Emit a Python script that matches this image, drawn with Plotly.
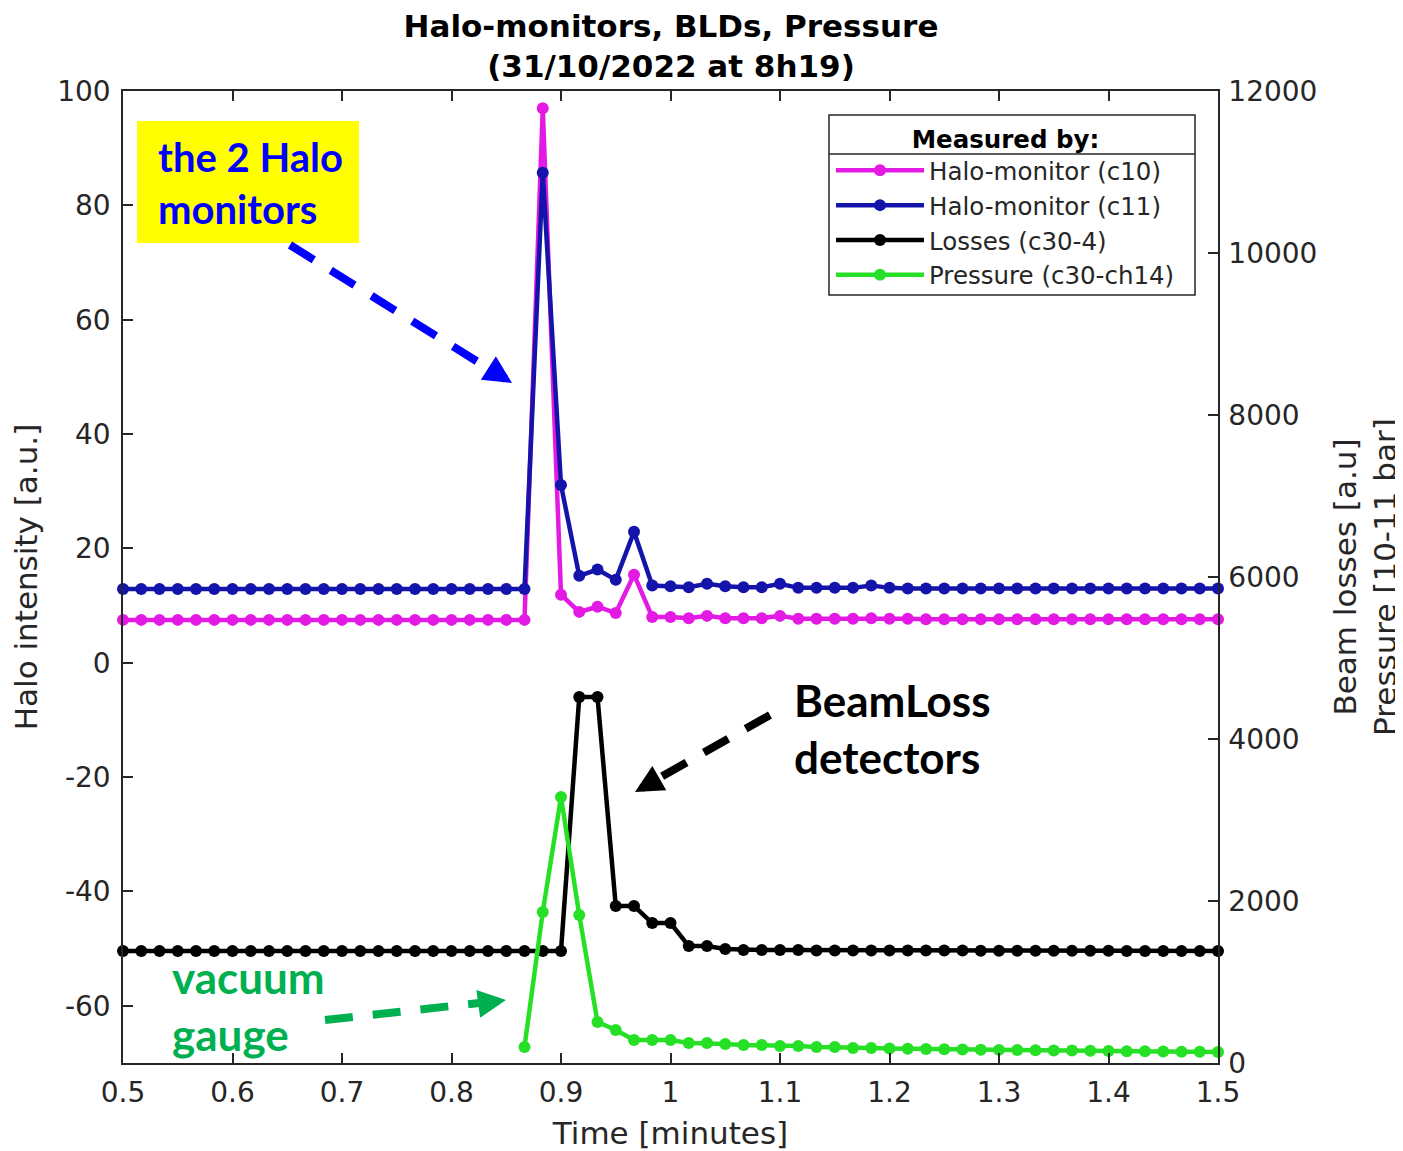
import plotly.graph_objects as go

# ---------------- data ----------------
time_s = [30, 31, 32, 33, 34, 35, 36, 37, 38, 39, 40, 41, 42, 43, 44, 45, 46, 47, 48, 49,
          50, 51, 52, 53, 54, 55, 56, 57, 58, 59, 60, 61, 62, 63, 64, 65, 66, 67, 68, 69,
          70, 71, 72, 73, 74, 75, 76, 77, 78, 79, 80, 81, 82, 83, 84, 85, 86, 87, 88, 89, 90]

halo_c10 = [7.5, 7.5, 7.5, 7.5, 7.5, 7.5, 7.5, 7.5, 7.5, 7.5, 7.5, 7.5, 7.5, 7.5, 7.5, 7.5,
            7.5, 7.5, 7.5, 7.5, 7.5, 7.5, 7.5, 97.0, 11.9, 8.9, 9.8, 8.7, 15.4, 8.0, 8.0, 7.8,
            8.2, 7.8, 7.8, 7.8, 8.2, 7.7, 7.7, 7.7, 7.7, 7.8, 7.7, 7.7, 7.6, 7.6, 7.6, 7.6,
            7.6, 7.6, 7.6, 7.6, 7.6, 7.6, 7.6, 7.6, 7.6, 7.6, 7.6, 7.6, 7.6]

halo_c11 = [12.9, 12.9, 12.9, 12.9, 12.9, 12.9, 12.9, 12.9, 12.9, 12.9, 12.9, 12.9, 12.9,
            12.9, 12.9, 12.9, 12.9, 12.9, 12.9, 12.9, 12.9, 12.9, 12.9, 85.7, 31.1, 15.2,
            16.3, 14.5, 22.9, 13.5, 13.4, 13.2, 13.8, 13.4, 13.2, 13.2, 13.8, 13.1, 13.1,
            13.1, 13.1, 13.5, 13.1, 13.0, 13.0, 13.0, 13.0, 13.0, 13.0, 13.0, 13.0, 13.0,
            13.0, 13.0, 13.0, 13.0, 13.0, 13.0, 13.0, 13.0, 13.0]

losses_c30_4 = [1383, 1383, 1383, 1383, 1383, 1383, 1383, 1383, 1383, 1383, 1383, 1383, 1383,
                1383, 1383, 1383, 1383, 1383, 1383, 1383, 1383, 1383, 1383, 1383, 1383, 4519,
                4519, 1938, 1938, 1728, 1728, 1444, 1444, 1407, 1395, 1395, 1395, 1395, 1390,
                1390, 1390, 1390, 1390, 1388, 1388, 1388, 1388, 1386, 1386, 1386, 1386, 1385,
                1385, 1385, 1385, 1384, 1384, 1383, 1383, 1383, 1383]

pressure_c30_ch14 = [None, None, None, None, None, None, None, None, None, None, None, None,
                     None, None, None, None, None, None, None, None, None, None, 198, 1864,
                     3284, 1827, 506, 407, 284, 284, 284, 247, 247, 235, 222, 222, 210, 210,
                     198, 198, 185, 185, 180, 176, 173, 170, 168, 165, 162, 160, 158, 155,
                     153, 150, 148, 146, 144, 142, 140, 138, 136]

x_tickvals = [0.5, 0.6, 0.7, 0.8, 0.9, 1.0, 1.1, 1.2, 1.3, 1.4, 1.5]
x_ticktext = ["0.5", "0.6", "0.7", "0.8", "0.9", "1", "1.1", "1.2", "1.3", "1.4", "1.5"]
y_tickvals = [-60, -40, -20, 0, 20, 40, 60, 80, 100]
y_ticktext = ["-60", "-40", "-20", "0", "20", "40", "60", "80", "100"]
y2_tickvals = [0, 2000, 4000, 6000, 8000, 10000, 12000]
y2_ticktext = ["0", "2000", "4000", "6000", "8000", "10000", "12000"]

series_names = ["Halo-monitor (c10)", "Halo-monitor (c11)", "Losses (c30-4)",
                "Pressure (c30-ch14)"]
series_colors = ["#e31ae3", "#1414aa", "#000000", "#26e026"]

time_min = [s / 60.0 for s in time_s]

# ---------------- layout constants (page pixels) ----------------
OFF = 8                      # page offset of the figure (body margin)
W, H = 1403 - OFF, 1151 - OFF
L, R, T, B = 123, 1218, 91, 1063   # plot area in page pixels


def px(xp):
    return (xp - L) / (R - L)


def py(yp):
    return (B - yp) / (B - T)


fig = go.Figure()
for vals, name, col, yax in zip(
        [halo_c10, halo_c11, losses_c30_4, pressure_c30_ch14],
        series_names, series_colors, ["y", "y", "y2", "y2"]):
    fig.add_trace(go.Scatter(
        x=time_min, y=vals, name=name, yaxis=yax, mode="lines+markers",
        line=dict(color=col, width=4.5),
        marker=dict(color=col, size=12, symbol="circle"),
        connectgaps=False, cliponaxis=False))

axis_font = dict(family="DejaVu Sans", size=28, color="#262626")
title_font = dict(family="DejaVu Sans", size=31, color="#262626")

fig.update_layout(
    width=W, height=H,
    margin=dict(l=L - OFF, r=W - (R - OFF), t=T - OFF, b=H - (B - OFF), pad=0,
                autoexpand=False),
    paper_bgcolor="white", plot_bgcolor="white",
    font=dict(family="DejaVu Sans", color="#262626"),
    title=dict(
        text="<b>Halo-monitors, BLDs, Pressure<br>(31/10/2022 at 8h19)</b>",
        font=dict(family="DejaVu Sans", size=31, color="#000000"),
        x=px(671), xref="paper", xanchor="center",
        y=1 - 29 / H, yref="container", yanchor="top"),
    xaxis=dict(
        range=[0.5, 1.5], tickvals=x_tickvals, ticktext=x_ticktext,
        ticks="inside", ticklen=10, tickwidth=1.5, tickcolor="#262626",
        showline=True, linecolor="#262626", linewidth=1.5, mirror="ticks",
        showgrid=False, zeroline=False, tickfont=axis_font,
        ticklabelstandoff=4,
        title=dict(text="Time [minutes]", font=title_font, standoff=14)),
    yaxis=dict(
        range=[-70, 100], tickvals=y_tickvals, ticktext=y_ticktext,
        ticks="inside", ticklen=10, tickwidth=1.5, tickcolor="#262626",
        showline=True, linecolor="#262626", linewidth=1.5,
        showgrid=False, zeroline=False, tickfont=axis_font, ticklabelstandoff=5,
        title=dict(text="Halo intensity [a.u.]", font=title_font, standoff=12)),
    yaxis2=dict(
        range=[0, 12000], tickvals=y2_tickvals, ticktext=y2_ticktext,
        overlaying="y", side="right",
        ticks="inside", ticklen=10, tickwidth=1.5, tickcolor="#262626",
        showline=True, linecolor="#262626", linewidth=1.5,
        showgrid=False, zeroline=False, tickfont=axis_font, ticklabelstandoff=3,
        title=dict(text="Beam losses [a.u]<br>Pressure [10-11 bar]",
                   font=title_font, standoff=19)),
    legend=dict(
        x=px(831), y=py(116), xanchor="left", yanchor="top",
        xref="paper", yref="paper",
        bgcolor="rgba(255,255,255,0)", borderwidth=0,
        font=dict(family="DejaVu Sans", size=24.5, color="#262626"),
        title=dict(text="<b>Measured by:</b>", side="top center",
                   font=dict(family="DejaVu Sans", size=24.5, color="#000000")),
        tracegroupgap=0, itemwidth=88),
    showlegend=True,
)

# ---------------- annotations (callouts) ----------------
shapes = []
# legend frame and title separator
shapes.append(dict(type="rect", xref="paper", yref="paper",
                   x0=px(829), x1=px(1195), y0=py(295), y1=py(115),
                   fillcolor="white", line=dict(color="#262626", width=1.5),
                   layer="above"))
shapes.append(dict(type="line", xref="paper", yref="paper",
                   x0=px(829), x1=px(1195), y0=py(154), y1=py(154),
                   line=dict(color="#262626", width=1.5), layer="above"))
# yellow box
shapes.append(dict(type="rect", xref="paper", yref="paper",
                   x0=px(137), x1=px(359), y0=py(243), y1=py(121),
                   fillcolor="#ffff00", line=dict(width=0), layer="above"))
# dashed arrow bodies
for (x0, y0, x1, y1, col) in [(290, 245, 494, 372, "#0000ff"),
                              (770, 715, 652, 782, "#000000"),
                              (325, 1020, 488, 1002, "#00b050")]:
    shapes.append(dict(type="line", xref="paper", yref="paper",
                       x0=px(x0), y0=py(y0), x1=px(x1), y1=py(y1),
                       line=dict(color=col, width=8, dash="28px,20px"), layer="above"))

annotations = [
    dict(text="<b>the 2 Halo<br>monitors</b>", xref="paper", yref="paper",
         x=px(156), y=py(183), xanchor="left", yanchor="middle", align="left",
         showarrow=False, font=dict(family="Lato", size=40, color="#0000ff")),
    dict(text="<b>BeamLoss<br>detectors</b>", xref="paper", yref="paper",
         x=px(792), y=py(728), xanchor="left", yanchor="middle", align="left",
         showarrow=False, font=dict(family="Lato", size=44, color="#000000")),
    dict(text="<b>vacuum<br>gauge</b>", xref="paper", yref="paper",
         x=px(170), y=py(1005), xanchor="left", yanchor="middle", align="left",
         showarrow=False, font=dict(family="Lato", size=44, color="#00b050")),
]
# arrow heads
for (hx, hy, tx, ty, col) in [(512, 383, 490, 369, "#0000ff"),
                              (635, 792, 656, 780, "#000000"),
                              (506, 1000, 484, 1003, "#00b050")]:
    annotations.append(dict(text="", xref="paper", yref="paper",
                            x=px(hx), y=py(hy), ax=tx - hx, ay=ty - hy,
                            showarrow=True, arrowhead=2, arrowsize=0.7,
                            arrowwidth=8, arrowcolor=col))

fig.update_layout(shapes=shapes, annotations=annotations)

fig.write_html("out.html")
